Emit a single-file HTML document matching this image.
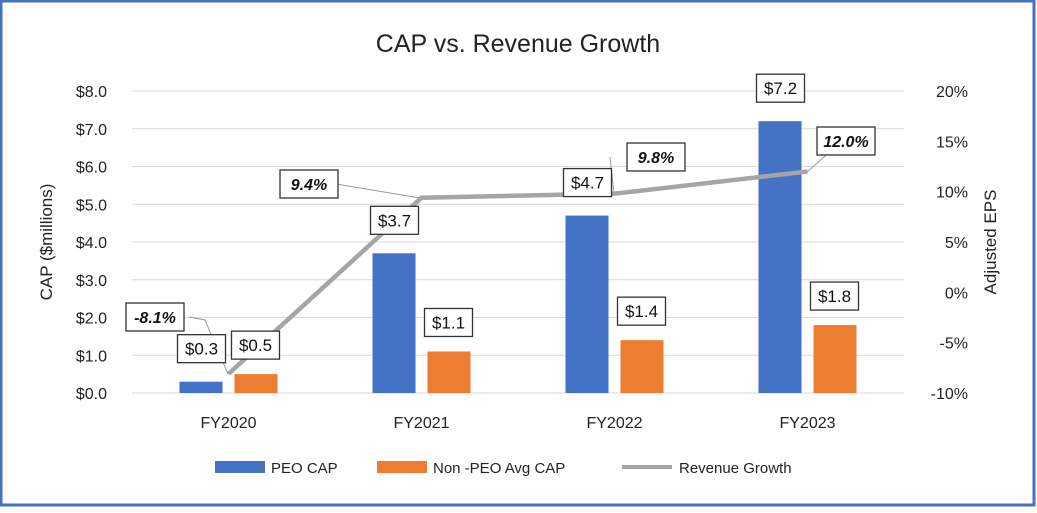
<!DOCTYPE html>
<html><head><meta charset="utf-8"><style>
body{margin:0;background:#fff}
svg text{font-family:"Liberation Sans",sans-serif}
</style></head><body>
<svg id="c" width="1037" height="508" xmlns="http://www.w3.org/2000/svg">
<rect x="1" y="1" width="1033" height="504" fill="#fff" stroke="#4472c4" stroke-width="3"/>
<text x="518" y="52" font-size="25" text-anchor="middle" fill="#222">CAP vs. Revenue Growth</text>
<g id="grid"></g><g id="marks"></g><g id="labels"></g>
<text transform="translate(52,242) rotate(-90)" font-size="17" text-anchor="middle" fill="#222">CAP ($millions)</text>
<text transform="translate(996,242) rotate(-90)" font-size="17" text-anchor="middle" fill="#222">Adjusted EPS</text>
<g>
<rect x="215" y="461" width="50" height="12" fill="#4472c4"/>
<text x="271" y="473" font-size="15" fill="#222">PEO CAP</text>
<rect x="377" y="461" width="50" height="12" fill="#ed7d31"/>
<text x="433" y="473" font-size="15" fill="#222">Non -PEO Avg CAP</text>
<line x1="622" y1="467" x2="672" y2="467" stroke="#a5a5a5" stroke-width="4"/>
<text x="679" y="473" font-size="15" fill="#222">Revenue Growth</text>
</g>
</svg>
<script>
const categories=["FY2020","FY2021","FY2022","FY2023"];
const peoCap=[0.3,3.7,4.7,7.2];
const nonPeoCap=[0.5,1.1,1.4,1.8];
const revenueGrowth=[-8.1,9.4,9.8,12.0];
const leftTicks=[0,1,2,3,4,5,6,7,8];
const rightTicks=[-10,-5,0,5,10,15,20];
const NS="http://www.w3.org/2000/svg";
const X0=132,X1=904,Y0=393,YT=91;
const y=v=>Y0-(v/8)*(Y0-YT);
const y2=v=>Y0-((v+10)/30)*(Y0-YT);
const step=(X1-X0)/categories.length;
const cx=i=>X0+step*(i+0.5);
function mk(tag,attrs,parent,text){const e=document.createElementNS(NS,tag);for(const k in attrs)e.setAttribute(k,attrs[k]);if(text!=null)e.textContent=text;parent.appendChild(e);return e;}
const grid=document.getElementById('grid'),marks=document.getElementById('marks'),labels=document.getElementById('labels');
leftTicks.forEach(t=>{
 const l=mk('line',{x1:X0,x2:X1,y1:y(t),y2:y(t),stroke:'#d9d9d9','stroke-width':1},grid);
 
 
 const tx=mk('text',{x:107,y:y(t)+6,'font-size':16,'text-anchor':'end',fill:'#222'},grid,'$'+t.toFixed(1));
 
 
});
rightTicks.forEach(t=>{
 const tx=mk('text',{x:968,y:y2(t)+6,'font-size':16,'text-anchor':'end',fill:'#222'},grid,t+'%');
 
 
});
function box(x,yy,w,txt,bold,name){
 const r=mk('rect',{x:x-w/2,y:yy-14,width:w,height:28,fill:'#fff',stroke:'#333','stroke-width':1.3},labels);
 
 
 const t=mk('text',{x:x,y:yy+6,'font-size':bold?16:17,'text-anchor':'middle',fill:'#111','font-weight':bold?'bold':'normal','font-style':bold?'italic':'normal'},labels,txt);
 
 
}
const bw=43;
categories.forEach((c,i)=>{
 const b1=mk('rect',{x:cx(i)-49,y:y(peoCap[i]),width:bw,height:Y0-y(peoCap[i]),fill:'#4472c4'},marks);
 
 
 const b2=mk('rect',{x:cx(i)+6,y:y(nonPeoCap[i]),width:bw,height:Y0-y(nonPeoCap[i]),fill:'#ed7d31'},marks);
 
 
 const t=mk('text',{x:cx(i),y:428,'font-size':16,'text-anchor':'middle',fill:'#222'},grid,c);
 
 
});
// leader lines
const leaders=[[[189,317],[205,320],[228,374]],[[336,184],[420,198]],[[610,157],[614,193]],[[842,141],[806,173]]];
leaders.forEach(p=>{const pl=mk('polyline',{points:p.map(q=>q.join(',')).join(' '),fill:'none',stroke:'#999','stroke-width':1},marks);
 
 });
const pts=revenueGrowth.map((v,i)=>cx(i)+','+y2(v)).join(' ');
const line=mk('polyline',{points:pts,fill:'none',stroke:'#a5a5a5','stroke-width':4.5},marks);


categories.forEach((c,i)=>{
 box(cx(i)-27,Math.min(y(peoCap[i]),Y0)-33,48,'$'+peoCap[i].toFixed(1),false,'label-peo-'+c);
 box(cx(i)+27,y(nonPeoCap[i])-29,48,'$'+nonPeoCap[i].toFixed(1),false,'label-nonpeo-'+c);
});
const revPos=[[155,317],[309,184],[656,157],[846,141]];
revenueGrowth.forEach((v,i)=>box(revPos[i][0],revPos[i][1],58,v.toFixed(1)+'%',true,'label-revenue-'+categories[i]));
</script>
</body></html>
